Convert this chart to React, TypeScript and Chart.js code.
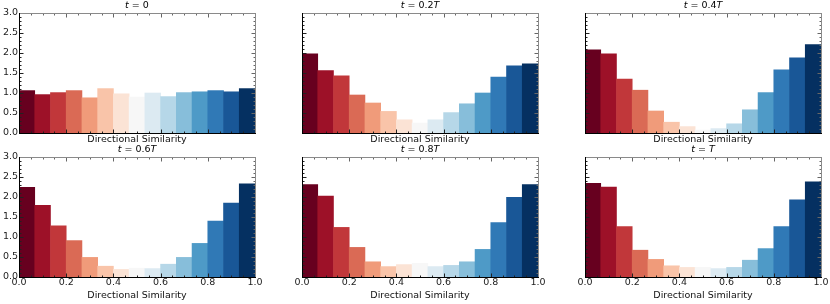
import React, { useEffect, useRef } from "react";
import { Chart, registerables } from "chart.js";
Chart.register(...registerables);

// ---- data ----
const binCount = 15;
const xTickLabels = [0, 0.2, 0.4, 0.6, 0.8, 1.0];
const yTickLabels = [0, 0.5, 1.0, 1.5, 2.0, 2.5, 3.0];
const xLabel = "Directional Similarity";

const titleT0 = ["t", " = 0", ""];
const titleT02 = ["t", " = 0.2", "T"];
const titleT04 = ["t", " = 0.4", "T"];
const titleT06 = ["t", " = 0.6", "T"];
const titleT08 = ["t", " = 0.8", "T"];
const titleTT = ["t", " = ", "T"];

const valuesT0 = [1.06, 0.96, 1.01, 1.06, 0.88, 1.11, 0.98, 0.9, 1.0, 0.91, 1.01, 1.03, 1.06, 1.03, 1.11];
const valuesT02 = [1.98, 1.56, 1.43, 0.95, 0.75, 0.54, 0.33, 0.25, 0.33, 0.51, 0.73, 1.0, 1.4, 1.68, 1.73];
const valuesT04 = [2.08, 1.98, 1.35, 1.07, 0.55, 0.27, 0.16, 0.075, 0.11, 0.23, 0.58, 1.01, 1.58, 1.88, 2.21];
const valuesT06 = [2.24, 1.79, 1.28, 0.91, 0.49, 0.27, 0.19, 0.22, 0.21, 0.32, 0.49, 0.84, 1.4, 1.85, 2.33];
const valuesT08 = [2.31, 2.02, 1.24, 0.74, 0.38, 0.26, 0.31, 0.34, 0.26, 0.29, 0.38, 0.69, 1.36, 1.99, 2.31];
const valuesTT = [2.34, 2.25, 1.26, 0.67, 0.44, 0.28, 0.24, 0.24, 0.21, 0.24, 0.42, 0.71, 1.26, 1.93, 2.38];

// RdBu colormap nodes
const rdbuNodes = [
  [103, 0, 31], [178, 24, 43], [214, 96, 77], [244, 165, 130], [253, 219, 199],
  [247, 247, 247], [209, 229, 240], [146, 197, 222], [67, 147, 195], [33, 102, 172], [5, 48, 97],
];
function rdbu(t: number) {
  const p = t * (rdbuNodes.length - 1);
  const i = Math.min(Math.floor(p), rdbuNodes.length - 2);
  const f = p - i;
  const a = rdbuNodes[i], b = rdbuNodes[i + 1];
  const c = a.map((v, k) => Math.round(v + (b[k] - v) * f));
  return `rgb(${c[0]},${c[1]},${c[2]})`;
}
const barColors = Array.from({ length: binCount }, (_, i) => rdbu(i / (binCount - 1)));
const binCenters = Array.from({ length: binCount }, (_, i) => (i + 0.5) / binCount);

const panels = [
  { title: titleT0, values: valuesT0 },
  { title: titleT02, values: valuesT02 },
  { title: titleT04, values: valuesT04 },
  { title: titleT06, values: valuesT06 },
  { title: titleT08, values: valuesT08 },
  { title: titleTT, values: valuesTT },
];

// ---- layout ----
const FONT = "'DejaVu Sans'";
const FS = 9.5;
const plotLefts = [19, 302, 585];
const plotTops = [13, 157];
const PLOT_W = 236;
const PLOT_H = 120;
const Y_AXIS_W = 19;
const PAD_TOP = 13;
const PAD_RIGHT = 8;
const X_AXIS_H = [16, 26];
const XLABEL_OFF = [7, 19];

const framePlugin = {
  id: "frame",
  afterDatasetsDraw(chart: any) {
    const { ctx, chartArea: a, scales } = chart;
    const x = scales.x, y = scales.y;
    const L = Math.round(a.left) + 0.5, R = Math.round(a.right) + 0.5;
    const T = Math.round(a.top) + 0.5, B = Math.round(a.bottom) + 0.5;
    ctx.save();
    ctx.lineWidth = 1;
    const line = (x1: number, y1: number, x2: number, y2: number, c: string) => {
      ctx.strokeStyle = c;
      ctx.beginPath();
      ctx.moveTo(x1, y1);
      ctx.lineTo(x2, y2);
      ctx.stroke();
    };
    for (let i = 0; i <= 20; i++) {
      const v = i / 20;
      const len = i % 4 === 0 ? 4 : 2;
      const px = Math.round(x.getPixelForValue(v)) + 0.5;
      line(px, B, px, B - len, "#222");
      line(px, T, px, T + len, "#666");
    }
    for (let i = 0; i <= 30; i++) {
      const v = i / 10;
      const len = i % 5 === 0 ? 4 : 2;
      const py = Math.round(y.getPixelForValue(v)) + 0.5;
      line(L, py, L + len, py, "#222");
      line(R, py, R - len, py, "#666");
    }
    line(L, T, R, T, "#8a8a8a");
    line(R, T, R, B, "#8a8a8a");
    line(L, T - 0.5, L, B + 0.5, "#000");
    line(L - 0.5, B, R + 0.5, B, "#000");
    ctx.restore();
  },
};

const titlePlugin = {
  id: "mixedTitle",
  afterDraw(chart: any) {
    const parts: string[] = chart.options.plugins.mixedTitle.parts;
    const { ctx, chartArea: a } = chart;
    const fonts = [`italic ${FS}px ${FONT}`, `${FS}px ${FONT}`, `italic ${FS}px ${FONT}`];
    ctx.save();
    ctx.fillStyle = "#000";
    ctx.textBaseline = "middle";
    ctx.textAlign = "left";
    let total = 0;
    const widths = parts.map((p, i) => {
      ctx.font = fonts[i];
      const w = ctx.measureText(p).width;
      total += w;
      return w;
    });
    let cx = (a.left + a.right) / 2 - total / 2;
    const cy = a.top - 7;
    parts.forEach((p, i) => {
      ctx.font = fonts[i];
      ctx.fillText(p, cx, cy);
      cx += widths[i];
    });
    ctx.restore();
  },
};

function Panel({ idx }: { idx: number }) {
  const ref = useRef<HTMLCanvasElement>(null);
  const row = Math.floor(idx / 3);
  const col = idx % 3;
  const w = Y_AXIS_W + PLOT_W + PAD_RIGHT;
  const h = PAD_TOP + PLOT_H + X_AXIS_H[row];
  useEffect(() => {
    const p = panels[idx];
    const xh = X_AXIS_H[row];
    const lh = FS * 1.2;
    const titlePadBottom = xh - XLABEL_OFF[row] - lh / 2;
    const chart = new Chart(ref.current!, {
      type: "bar",
      data: {
        datasets: [
          {
            data: p.values.map((v, i) => ({ x: binCenters[i], y: v })),
            backgroundColor: barColors,
            borderWidth: 0,
            barPercentage: 1,
            categoryPercentage: 1,
          } as any,
        ],
      },
      options: {
        animation: false,
        responsive: false,
        maintainAspectRatio: false,
        devicePixelRatio: 1,
        events: [],
        layout: { padding: { top: PAD_TOP, right: PAD_RIGHT, left: 0, bottom: 0 } },
        plugins: {
          legend: { display: false },
          tooltip: { enabled: false },
          title: { display: false },
          mixedTitle: { parts: p.title },
        } as any,
        scales: {
          x: {
            type: "linear",
            min: 0,
            max: 1,
            offset: false,
            grid: { display: false, drawTicks: false },
            border: { display: false },
            afterBuildTicks: (s: any) => {
              s.ticks = xTickLabels.map((v) => ({ value: v }));
            },
            ticks: {
              display: row === 1,
              padding: 0,
              autoSkip: false,
              maxRotation: 0,
              color: "#222",
              font: { family: FONT, size: FS },
              callback: (v: any) => Number(v).toFixed(1),
            },
            title: {
              display: true,
              text: xLabel,
              color: "#111",
              font: { family: FONT, size: FS },
              padding: { top: 0, bottom: titlePadBottom },
            },
            afterFit: (s: any) => {
              s.height = xh;
              s.paddingLeft = 0;
              s.paddingRight = 0;
            },
          } as any,
          y: {
            type: "linear",
            min: 0,
            max: 3,
            grid: { display: false, drawTicks: false },
            border: { display: false },
            afterBuildTicks: (s: any) => {
              s.ticks = yTickLabels.map((v) => ({ value: v }));
            },
            ticks: {
              display: col === 0,
              padding: 1,
              color: "#222",
              font: { family: FONT, size: FS },
              callback: (v: any) => Number(v).toFixed(1),
            },
            afterFit: (s: any) => {
              s.width = Y_AXIS_W;
              s.paddingTop = 0;
              s.paddingBottom = 0;
            },
          } as any,
        },
      },
      plugins: [framePlugin, titlePlugin],
    });
    return () => chart.destroy();
  }, [idx]);
  return (
    <canvas
      ref={ref}
      width={w}
      height={h}
      style={{
        position: "absolute",
        left: plotLefts[col] - Y_AXIS_W,
        top: plotTops[row] - PAD_TOP,
        width: w,
        height: h,
        display: "block",
      }}
    />
  );
}

export default function App() {
  return (
    <div
      style={{
        position: "absolute",
        left: 0,
        top: 0,
        width: 830,
        height: 304,
        background: "#fff",
        overflow: "hidden",
      }}
    >
      {panels.map((_, i) => (
        <Panel key={i} idx={i} />
      ))}
    </div>
  );
}
